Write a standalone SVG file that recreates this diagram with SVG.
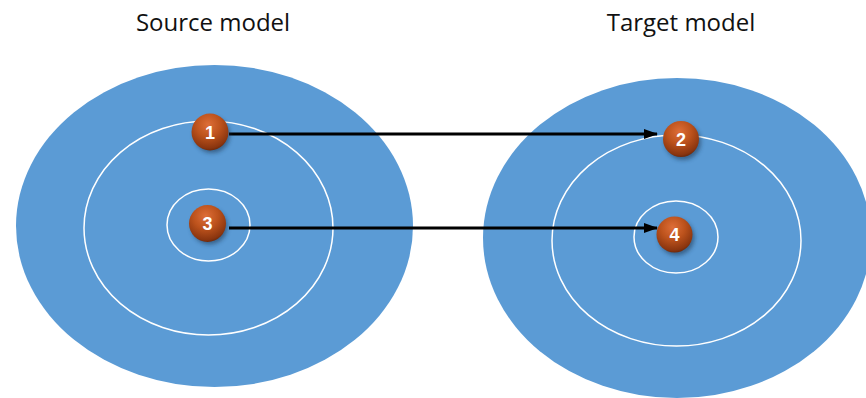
<svg xmlns="http://www.w3.org/2000/svg" width="866" height="398" viewBox="0 0 866 398">
  <defs>
    <radialGradient id="ball" cx="0.45" cy="0.3" r="0.75">
      <stop offset="0" stop-color="#DE6E38"/>
      <stop offset="0.45" stop-color="#BC521C"/>
      <stop offset="0.85" stop-color="#8A350F"/>
      <stop offset="1" stop-color="#5A2007"/>
    </radialGradient>
    <filter id="shadow" x="-50%" y="-50%" width="200%" height="200%">
      <feGaussianBlur stdDeviation="2"/>
    </filter>
    <marker id="arrow" viewBox="0 0 14 10" refX="13" refY="5" markerWidth="14" markerHeight="10" markerUnits="userSpaceOnUse" orient="auto">
      <path d="M0,0 L14,5 L0,10 Z" fill="#000"/>
    </marker>
  </defs>
  <style>
    .title { font-family: "Open Sans", "Liberation Sans", sans-serif; font-size: 24px; fill: #111; text-anchor: middle; }
    .disc { fill: #5B9BD5; }
    .ring { fill: none; stroke: #FFFFFF; stroke-width: 1.5; }
    .ballc { fill: url(#ball); }
    .shd { fill: #1F3550; opacity: 0.55; filter: url(#shadow); }
    .num { font-family: "Liberation Sans", Arial, sans-serif; font-weight: bold; font-size: 18px; fill: #FFFFFF; text-anchor: middle; }
    .conn { stroke: #000; stroke-width: 3.2; fill: none; }
  </style>

  <text class="title" x="213" y="31">Source model</text>
  <text class="title" x="681" y="31">Target model</text>

  <g id="source-model">
    <ellipse class="disc" cx="214.5" cy="226" rx="198.5" ry="161"/>
    <ellipse class="ring" cx="208.5" cy="228" rx="124.5" ry="107"/>
    <ellipse class="ring" cx="208.5" cy="225" rx="41.5" ry="36"/>
  </g>
  <g id="target-model">
    <ellipse class="disc" cx="677" cy="238" rx="194" ry="160"/>
    <ellipse class="ring" cx="676.5" cy="240.5" rx="124.5" ry="105.5"/>
    <ellipse class="ring" cx="676" cy="237" rx="42" ry="36"/>
  </g>

  <g id="connectors">
    <line class="conn" x1="229" y1="134" x2="657" y2="134" marker-end="url(#arrow)"/>
    <line class="conn" x1="229" y1="228" x2="657" y2="228" marker-end="url(#arrow)"/>
  </g>

  <g id="node-1">
    <ellipse class="shd" cx="212" cy="135" rx="18" ry="18"/>
    <circle class="ballc" cx="210" cy="132" r="18.5"/>
    <text class="num" x="210" y="138.5">1</text>
  </g>
  <g id="node-3">
    <ellipse class="shd" cx="209.5" cy="226.5" rx="18" ry="18"/>
    <circle class="ballc" cx="207.5" cy="223.5" r="18.5"/>
    <text class="num" x="207.5" y="230">3</text>
  </g>
  <g id="node-2">
    <ellipse class="shd" cx="683" cy="142" rx="18" ry="18"/>
    <circle class="ballc" cx="681" cy="139" r="18"/>
    <text class="num" x="681" y="145.5">2</text>
  </g>
  <g id="node-4">
    <ellipse class="shd" cx="676.5" cy="237.5" rx="18" ry="18"/>
    <circle class="ballc" cx="674.5" cy="234.5" r="18"/>
    <text class="num" x="674.5" y="241">4</text>
  </g>
</svg>
